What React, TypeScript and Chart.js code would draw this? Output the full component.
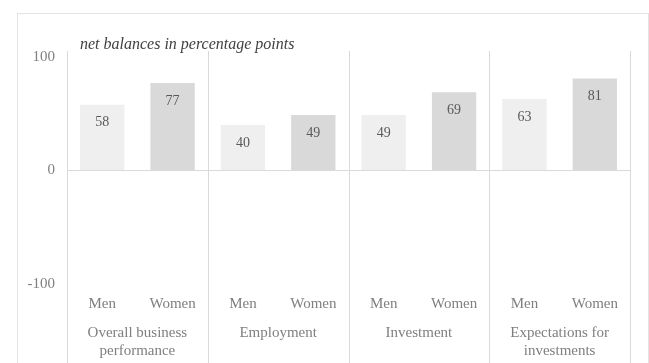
import React, { useEffect, useRef } from "react";
import { Chart, registerables } from "chart.js";
Chart.register(...registerables);

const groups: (string | string[])[] = [
  ["Overall business", "performance"],
  "Employment",
  "Investment",
  ["Expectations for", "investments"],
];
const genders = ["Men", "Women"];
const menValues = [58, 40, 49, 63];
const womenValues = [77, 49, 69, 81];
const yTicks = [-100, 0, 100];
const titleText = "net balances in percentage points";

const SERIF = "'Liberation Serif', 'Times New Roman', serif";
const MEN_COLOR = "#efefef";
const WOMEN_COLOR = "#d9d9d9";
const LINE_COLOR = "#d9d9d9";

const categoryLabels: string[] = [];
const values: number[] = [];
const colors: string[] = [];
groups.forEach((_, i) => {
  categoryLabels.push(genders[0], genders[1]);
  values.push(menValues[i], womenValues[i]);
  colors.push(MEN_COLOR, WOMEN_COLOR);
});

const decorPlugin = {
  id: "decor",
  beforeDatasetsDraw(chart: any) {
    const { ctx, chartArea, scales } = chart;
    const xs = scales.x;
    ctx.save();
    ctx.strokeStyle = LINE_COLOR;
    ctx.lineWidth = 1;
    for (let i = 0; i <= groups.length; i++) {
      const px = Math.round(xs.getPixelForValue(i * 2 - 0.5)) + 0.5;
      ctx.beginPath();
      ctx.moveTo(px, chartArea.top - 6);
      ctx.lineTo(px, chart.height);
      ctx.stroke();
    }
    ctx.restore();
  },
  afterDatasetsDraw(chart: any) {
    const { ctx, chartArea } = chart;
    const meta = chart.getDatasetMeta(0);
    ctx.save();
    ctx.fillStyle = "#595959";
    ctx.font = `14px ${SERIF}`;
    ctx.textAlign = "center";
    ctx.textBaseline = "middle";
    meta.data.forEach((bar: any, i: number) => {
      ctx.fillText(String(values[i]), bar.x, bar.y + 18);
    });
    ctx.fillStyle = "#404040";
    ctx.font = `italic 16px ${SERIF}`;
    ctx.textAlign = "left";
    ctx.fillText(titleText, chartArea.left + 13, chartArea.top - 12);
    ctx.restore();
  },
};

export default function App() {
  const ref = useRef<HTMLCanvasElement>(null);
  useEffect(() => {
    if (!ref.current) return;
    const chart = new Chart(ref.current, {
      type: "bar",
      data: {
        labels: categoryLabels,
        datasets: [
          {
            data: values,
            backgroundColor: colors,
            borderWidth: 0,
            categoryPercentage: 1,
            barPercentage: 0.63,
            xAxisID: "x",
          },
        ],
      },
      options: {
        animation: false,
        responsive: false,
        maintainAspectRatio: false,
        layout: { padding: { top: 57, right: 19, left: 0, bottom: 0 } },
        plugins: {
          legend: { display: false },
          tooltip: { enabled: false },
          title: { display: false },
        },
        scales: {
          x: {
            type: "category",
            position: "bottom",
            grid: { display: false, drawTicks: false },
            border: { display: false },
            ticks: {
              font: { family: SERIF, size: 15 },
              color: "#7f7f7f",
              padding: 11,
              maxRotation: 0,
              autoSkip: false,
            },
            afterFit: (s: any) => {
              s.height = 32;
            },
          },
          x2: {
            type: "category",
            position: "bottom",
            labels: groups as any,
            offset: true,
            grid: { display: false, drawTicks: false },
            border: { display: false },
            ticks: {
              font: { family: SERIF, size: 15, lineHeight: 1.2 },
              color: "#7f7f7f",
              padding: 8,
              maxRotation: 0,
              autoSkip: false,
            },
            afterFit: (s: any) => {
              s.height = 47;
            },
          },
          y: {
            min: -100,
            max: 100,
            afterBuildTicks: (s: any) => {
              s.ticks = yTicks.map((v) => ({ value: v }));
            },
            grid: {
              color: (c: any) => (c.tick && c.tick.value === 0 ? LINE_COLOR : "rgba(0,0,0,0)"),
              drawTicks: false,
            },
            border: { display: false },
            ticks: {
              font: { family: SERIF, size: 15 },
              color: "#7f7f7f",
              padding: 12,
            },
            afterFit: (s: any) => {
              s.width = 67;
            },
          },
        },
      },
      plugins: [decorPlugin],
    });
    return () => chart.destroy();
  }, []);
  return (
    <div style={{ position: "absolute", left: 0, top: 0, width: 649, height: 363, overflow: "hidden", background: "#fff" }}>
      <div
        style={{
          position: "absolute",
          left: 17,
          top: 13,
          width: 630,
          height: 400,
          border: "1px solid #e3e3e3",
        }}
      />
      <canvas ref={ref} width={649} height={363} style={{ position: "absolute", left: 0, top: 0 }} />
    </div>
  );
}
